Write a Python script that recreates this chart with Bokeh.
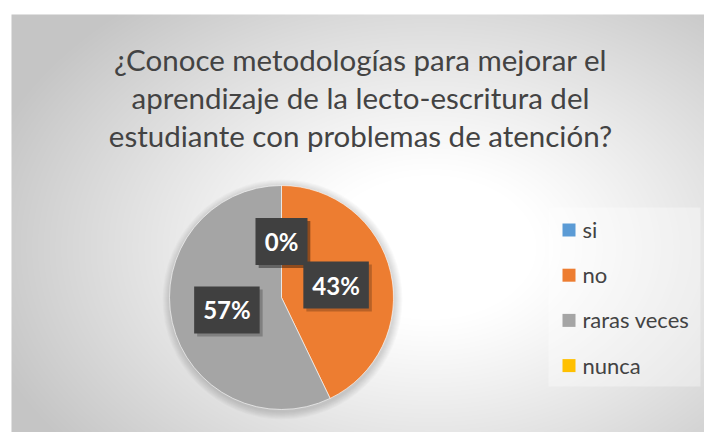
import numpy as np
from bokeh.plotting import figure
from bokeh.models import Range1d, ColumnDataSource
from bokeh.core.properties import value
from bokeh.embed import file_html
from bokeh.resources import INLINE

# ---- data ----
categories = ["si", "no", "raras veces", "nunca"]
counts = [0, 3, 4, 0]
colors = ["#5B9BD5", "#ED7D31", "#A5A5A5", "#FFC000"]
title_lines = ["¿Conoce metodologías para mejorar el",
               "aprendizaje de la lecto-escritura del",
               "estudiante con problemas de atención?"]

TXT = "#434343"
W, H = 704, 432
p = figure(width=W, height=H, output_backend="svg", toolbar_location=None,
           x_range=Range1d(0, W), y_range=Range1d(0, H), min_border=0)
p.axis.visible = False
p.grid.visible = False
p.outline_line_color = None
p.background_fill_color = "white"
p.border_fill_color = "white"

# ---- background radial gradient (chart area) ----
bx0, by0, bw, bh = 11, 0, 693, 418
jj, ii = np.meshgrid(np.arange(bw) + 0.5, np.arange(bh) + 0.5)
X = bx0 + jj
Y = by0 + ii
cxg, cyg = 430.0, 185.0
d = np.sqrt(((X - cxg) / 380.0) ** 2 + ((Y - cyg) / 260.0) ** 2)
t = np.clip((d - 0.28) / 0.95, 0, 1) ** 1.1
g = (255 - 58 * t).astype(np.uint32)
img = (255 << 24) | (g << 16) | (g << 8) | g
p.image_rgba(image=[img.astype(np.uint32)], x=bx0, y=by0, dw=bw, dh=bh)

# ---- title ----
tsrc = ColumnDataSource(dict(x=[360] * len(title_lines),
                             y=[373 - 38 * i for i in range(len(title_lines))],
                             t=title_lines))
p.text(x="x", y="y", text="t", source=tsrc, text_align="center",
       text_baseline="alphabetic", text_font=value("Lato"),
       text_font_size="29.5px", text_color=TXT)

# ---- pie ----
cx, cy, r = 281, 135, 112
total = float(sum(counts))
fr = np.array(counts) / total
ends = np.cumsum(fr)
starts = ends - fr
start_ang = np.pi / 2 - 2 * np.pi * starts
end_ang = np.pi / 2 - 2 * np.pi * ends

# soft shadow
for k in range(8):
    p.circle(x=[cx + 1], y=[cy - 2], radius=r + 1 + k, fill_color="black",
             fill_alpha=0.018, line_color=None)

mask = np.array(counts) > 0
wsrc = ColumnDataSource(dict(s=start_ang[mask], e=end_ang[mask],
                             c=np.array(colors)[mask]))
p.wedge(x=cx, y=cy, radius=r, start_angle="s", end_angle="e",
        direction="clock", fill_color="c", line_color="white",
        line_alpha=0.6, line_width=1, source=wsrc)

# ---- data labels ----
mid = 2 * np.pi * (starts + fr / 2)
lx = cx + 0.5 * r * np.sin(mid)
ly = cy + 0.5 * r * np.cos(mid)
labels = ["%d%%" % round(100 * f) for f in fr]
lsrc = ColumnDataSource(dict(x=lx, y=ly, t=labels))
shsrc = ColumnDataSource(dict(x=lx + 3, y=ly - 3, t=labels))
p.text(x="x", y="y", text="t", source=shsrc, text_align="center",
       text_baseline="middle", text_font=value("Lato"), text_font_style="bold",
       text_font_size="24px", text_alpha=0, background_fill_color="black",
       background_fill_alpha=0.22, padding=9)
p.text(x="x", y="y", text="t", source=lsrc, text_align="center",
       text_baseline="middle", text_font=value("Lato"), text_font_style="bold",
       text_font_size="24px", text_color="white",
       background_fill_color="#404040", padding=9)

# ---- legend ----
p.quad(left=548, right=700, bottom=46, top=225, fill_color="white",
       fill_alpha=0.35, line_color=None)
n = len(categories)
legy = [202.5 - 45.2 * i for i in range(n)]
p.rect(x=[568.5] * n, y=legy, width=13, height=13, fill_color=colors,
       line_color=None)
p.text(x=[582] * n, y=[v + 0.5 for v in legy], text=categories,
       text_align="left", text_baseline="alphabetic", text_font=value("Lato"),
       text_font_size="22px", text_color=TXT)

open("out.html", "w").write(file_html(p, INLINE))
